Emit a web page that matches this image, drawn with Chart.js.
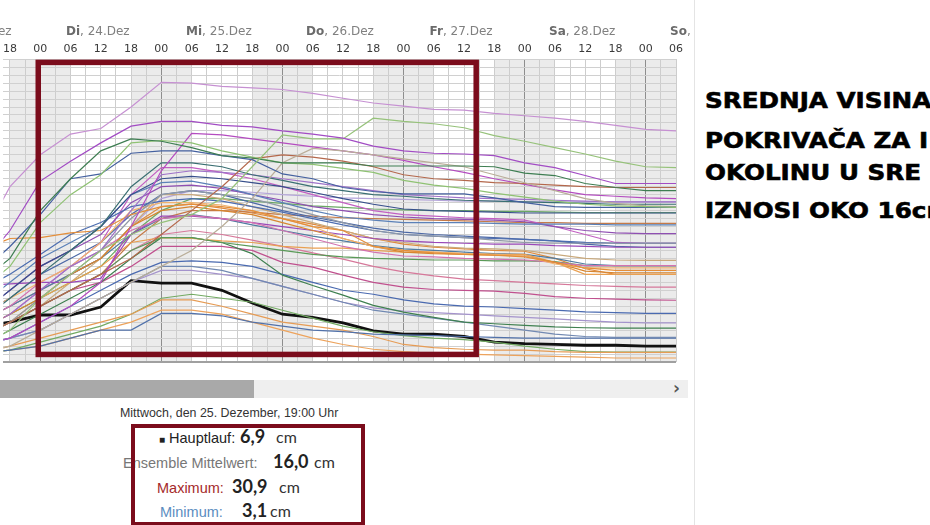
<!DOCTYPE html>
<html>
<head>
<meta charset="utf-8">
<script src="https://cdn.jsdelivr.net/npm/chart.js@4.4.1/dist/chart.umd.min.js"></script>
<style>
  body { margin: 0; width: 930px; height: 525px; background: #fff; overflow: hidden; position: relative; }
  #wrap { position: absolute; left: 0; top: 0; width: 690px; height: 370px; }
  #scroll { position: absolute; left: 0; top: 380px; width: 688px; height: 18px; background: #efefef; }
  #thumb { position: absolute; left: 0; top: 0; width: 254px; height: 18px; background: #a9a9a9; }
  #arrow { position: absolute; left: 673px; top: -2px; font: bold 17px "DejaVu Sans", sans-serif; color: #555; }
  #sep { position: absolute; left: 694px; top: 0; width: 1px; height: 525px; background: #e4e4e4; }
  .row { position: absolute; white-space: nowrap; line-height: 20px; height: 20px; }
  .row span { position: absolute; bottom: 3px; line-height: 1; }
  .lbl { font: 14.5px "Liberation Sans Narrow", "Liberation Sans", sans-serif; }
  .val { font: bold 18px Lato, "Open Sans", sans-serif; color: #222; }
  .cm { font: 16px Lato, "Open Sans", sans-serif; color: #333; }
  #when { position: absolute; left: 120px; top: 406px; white-space: nowrap; font: 12.4px "Liberation Sans Narrow", sans-serif; color: #333; }
  #box { position: absolute; left: 131px; top: 424px; width: 226px; height: 94px; border: 4px solid #7b0c1c; }
  #clipR { position: absolute; left: 696px; top: 0; width: 234px; height: 525px; overflow: hidden; }
  .big { position: absolute; left: 9px; white-space: nowrap; font: bold 22px "DejaVu Sans", sans-serif; color: #000;
         -webkit-text-stroke: 0.6px #000; transform: scaleX(1.12); transform-origin: 0 0; line-height: 1; }
</style>
</head>
<body>
<div id="wrap"><canvas id="chart" width="690" height="370"></canvas></div>
<div id="sep"></div>
<div id="scroll"><div id="thumb"></div><div id="arrow">›</div></div>

<div id="when">Mittwoch, den 25. Dezember, 19:00 Uhr</div>
<div class="row" style="left:0;top:428px;width:400px">
  <span class="lbl" style="left:159px;color:#222"><span style="position:static;font-size:10px">■</span> Hauptlauf:</span>
  <span class="val" style="left:240px">6,9</span>
  <span class="cm" style="left:276px">cm</span>
</div>
<div class="row" style="left:0;top:453px;width:400px">
  <span class="lbl" style="left:123px;color:#777">Ensemble Mittelwert:</span>
  <span class="val" style="left:273px">16,0</span>
  <span class="cm" style="left:314px">cm</span>
</div>
<div class="row" style="left:0;top:478px;width:400px">
  <span class="lbl" style="left:157px;color:#a52a2a">Maximum:</span>
  <span class="val" style="left:232px">30,9</span>
  <span class="cm" style="left:279px">cm</span>
</div>
<div class="row" style="left:0;top:502px;width:400px">
  <span class="lbl" style="left:160px;color:#5b8dbf">Minimum:</span>
  <span class="val" style="left:242px">3,1</span>
  <span class="cm" style="left:270px">cm</span>
</div>
<div id="box"></div>

<div id="clipR">
  <div class="big" style="top:90px">SREDNJA VISINA</div>
  <div class="big" style="top:130px">POKRIVAČA ZA I</div>
  <div class="big" style="top:162px">OKOLINU U SRE</div>
  <div class="big" style="top:200px">IZNOSI OKO 16cm</div>
</div>

<script>
// hours since Di, 24.Dez 00:00 (6-hourly steps)
const hours = [-12, -6, 0, 6, 12, 18, 24, 30, 36, 42, 48, 54, 60, 66, 72, 78, 84, 90, 96, 102, 108, 114, 120, 126];
const hourLabels = ['00', '06', '12', '18'];
const dayNames = ['Mo', 'Di', 'Mi', 'Do', 'Fr', 'Sa', 'So'];
const dayDates = ['23.Dez', '24.Dez', '25.Dez', '26.Dez', '27.Dez', '28.Dez', '29.Dez'];

// Hauptlauf (cm)
const mainRun = [4.4, 5.0, 5.9, 5.9, 6.9, 10.2, 9.9, 9.9, 9.0, 7.4, 6.0, 5.6, 4.9, 3.9, 3.5, 3.5, 3.2, 2.5, 2.3, 2.2, 2.1, 2.1, 2.0, 2.0];

// ensemble members (cm)
const members = [
  [15, 22, 26, 28.6, 29.3, 32, 35.1, 35, 34.6, 34.4, 34.2, 33.7, 33.1, 32.5, 32.1, 31.7, 31.6, 31.2, 30.9, 30.6, 30.2, 29.7, 29.2, 29],
  [12, 16.5, 22.7, 25.2, 27.5, 29.6, 30.2, 30.2, 29.7, 29.5, 29, 28.6, 28.1, 27.1, 26.5, 26.2, 26.1, 25.9, 25, 24.4, 23.4, 22.4, 22.4, 22.4],
  [2, 4, 8, 11, 14, 16, 17.5, 18.5, 20.5, 24.5, 28.5, 28, 28, 30.6, 30.2, 29.9, 29.4, 28.4, 27.7, 26.9, 26.1, 25.2, 24.5, 24.4],
  [10, 13, 19, 23, 26.5, 28, 27.7, 26.9, 25.9, 25.6, 25, 25, 25, 24.6, 24.6, 24.6, 24.6, 24.5, 23.7, 23.4, 22.4, 21.9, 21.5, 21.5],
  [9, 12, 17.5, 21, 23.5, 27.5, 27.8, 27.5, 26.5, 25.7, 25, 24.8, 24.3, 23.8, 22.8, 22.2, 21.8, 21.2, 20.7, 20.2, 19.8, 19.6, 19.5, 19.4],
  [11, 14.5, 18.5, 23, 23.6, 26.2, 26.5, 26.5, 25.9, 25.4, 23.6, 23, 21.9, 21.4, 21.1, 21.1, 21.1, 20.6, 20, 19.5, 19.4, 19.4, 19.4, 19.4],
  [1, 2, 4, 6, 8, 10, 12, 14, 17, 20.5, 25, 26.8, 26.5, 26, 25.5, 25, 24.5, 23.5, 22.5, 21.5, 20.5, 19.9, 19.6, 19.5],
  [3, 5, 7, 9, 11, 13, 16, 19, 22, 25.5, 26, 25.7, 25.2, 24.5, 23.5, 23, 22.8, 22.5, 22.4, 22.2, 22, 21.9, 21.9, 21.9],
  [2, 3, 5, 7, 10, 17, 24, 28.7, 28.5, 28, 27.5, 27, 26.5, 26, 25.3, 24.5, 23.8, 23, 22.3, 21.6, 21, 20.8, 20.6, 20.5],
  [5, 8, 11, 14, 17, 22, 25, 25, 24.5, 23.5, 22.8, 22, 21.5, 21, 20.8, 20.5, 20.3, 20.2, 20.1, 20, 19.9, 19.8, 19.8, 19.8],
  [4, 6, 9, 12, 14, 19, 23.5, 24, 23.8, 23.5, 23, 22.5, 22, 21.5, 21, 20.8, 20.6, 20.5, 20.4, 20.3, 20.2, 20.1, 20.1, 20.1],
  [6, 9, 12, 14, 17, 21, 23, 23.3, 23, 22.5, 22, 21.3, 20.5, 19.8, 19.2, 19, 18.9, 18.8, 18.7, 18.7, 18.7, 18.7, 18.7, 18.7],
  [7, 10, 13, 15, 17, 21, 22.5, 22.7, 22, 21, 20, 19, 18.2, 17.8, 17.5, 17.5, 17.5, 17.4, 17.3, 17.3, 17.3, 17.2, 17.2, 17.2],
  [3, 5, 8, 11, 14, 18, 21, 21.5, 21, 20.5, 19.5, 18.5, 17.5, 16.5, 16, 15.8, 15.6, 15.3, 15, 14.9, 14.9, 14.9, 14.9, 14.9],
  [14, 15.5, 15.6, 16.2, 16.5, 18.5, 19.5, 19.8, 19.5, 19, 18, 17, 16.5, 14.5, 14, 13.7, 13.5, 13.4, 13.2, 12.5, 11.8, 11.5, 11.5, 11.5],
  [6, 8, 10, 12, 15, 19, 20, 20, 19.7, 19, 18, 17, 15.5, 14.5, 14, 13.8, 13.6, 13.5, 13.3, 12.3, 11.8, 11.8, 11.8, 11.8],
  [4, 6, 8, 11, 13, 17, 19, 19.5, 19, 18.5, 17.5, 16.5, 15.5, 14.5, 13.8, 13.6, 13.5, 13.4, 13.3, 12.5, 11.4, 11.2, 11.2, 11.2],
  [5, 7, 10, 12, 14, 16.5, 18, 18.4, 18, 17.5, 16.5, 15.5, 14.5, 13.8, 13.3, 13.2, 13, 12.9, 12.8, 12.5, 12.1, 12.1, 12.1, 12.1],
  [9.5, 9.8, 10, 10, 10.5, 16, 18.3, 18.3, 18, 17.5, 17, 16.5, 16, 15.5, 15.2, 15, 14.9, 14.8, 14.8, 14.6, 14.5, 14.4, 14.4, 14.4],
  [9, 11, 13.5, 16, 17.5, 19.5, 20.2, 20.5, 20.2, 19.5, 18.8, 18, 17.2, 16.5, 16, 15.8, 15.6, 15.5, 15.4, 15.2, 15, 14.9, 14.9, 14.9],
  [3, 5, 7, 9, 11, 14, 15.6, 15.6, 15, 14.5, 14, 13.5, 13.2, 13, 12.9, 12.8, 12.8, 12.7, 12.7, 12.6, 12.1, 12.1, 12.1, 12.1],
  [3, 5, 8, 10, 12, 15, 15.6, 15.5, 15.2, 15, 14.5, 14.3, 14.3, 14, 13.8, 13.8, 13.6, 13.5, 13.5, 12.5, 11, 11, 11, 11],
  [2, 4, 6, 8, 10, 13, 15.6, 15.6, 15, 13.6, 10.9, 9.6, 8.4, 7.1, 6.25, 5.6, 5, 4.8, 4.6, 4.4, 4.3, 4.25, 4.25, 4.25],
  [2, 3, 4, 6, 8, 10, 12, 12, 11.5, 10.5, 9.5, 8.5, 7.5, 6.5, 6, 5.5, 5, 4.5, 4, 3.5, 3.2, 3.1, 3.1, 3.1],
  [1, 1.5, 2, 3, 4, 4, 6.1, 6.1, 5.8, 5, 4.5, 4, 3.8, 3.5, 3.4, 3.3, 3.2, 3.1, 3, 3, 3, 3, 3, 3],
  [1, 2, 3, 4, 5, 6, 7.8, 7.8, 7, 6, 5, 4.5, 4, 3.2, 2.2, 1.8, 1.6, 1.5, 1.5, 1.3, 1.2, 1.2, 1.2, 1.2],
  [1, 1.5, 2.5, 3.5, 4.5, 6, 8, 8.5, 8, 7.5, 6.5, 5.5, 4.5, 3.8, 3.3, 3, 2.8, 2.5, 2, 1.6, 1.3, 1.25, 1.25, 1.25],
  [3, 5, 7, 9, 10, 12, 14.5, 14.5, 14.5, 14, 12.5, 11.9, 10.9, 10, 9.4, 9.1, 9, 8.9, 8.6, 8.2, 8, 7.9, 7.8, 7.75],
  [2, 3, 5, 7, 9, 11, 12.5, 12.7, 12.5, 12, 11, 10, 9, 8.5, 7.8, 7.3, 7, 6.9, 6.7, 6.5, 6.3, 6.2, 6.1, 6.1],
  [2, 3, 4, 6, 8, 10, 11.5, 11.5, 11, 10.5, 9.5, 8.5, 7.5, 6.8, 6.4, 6.2, 6, 5.8, 5.6, 5.4, 5.2, 5, 4.9, 4.9],
  [1, 1.5, 2, 3, 4, 5, 6.5, 6.5, 6, 5, 4, 3, 2.2, 1.6, 1.3, 1.1, 1, 0.9, 0.8, 0.7, 0.6, 0.5, 0.5, 0.5],
  [3, 5, 7, 10, 13, 17, 21, 21, 20.5, 19.5, 18.5, 17.5, 16.5, 15.5, 15, 14.5, 14.3, 14.2, 14, 13.5, 13, 12.8, 12.75, 12.75],
  [5, 7, 9, 11, 13, 16, 18, 18.5, 18, 17.2, 16.5, 15.8, 15.2, 14.6, 14.2, 14, 13.8, 13.6, 13.5, 13, 12.3, 12.1, 12.1, 12.1],
  [6, 9, 12, 14, 16, 20, 22, 22.2, 21.8, 21, 20.3, 19.5, 19, 18.5, 18.2, 18, 17.9, 17.8, 17.6, 17, 16.5, 16.2, 16.1, 16.1],
  [4, 6, 9, 12, 15, 21, 24.4, 24.4, 23.8, 23, 22, 21, 20, 19, 18.5, 18.3, 18.1, 18, 17.8, 17, 16, 15, 14.9, 14.9],
  [6, 8, 11, 13, 15, 18.5, 21, 21.5, 21, 20, 19, 18.2, 17.5, 16.8, 16.3, 16, 15.8, 15.6, 15.4, 15.2, 14.8, 14.5, 14.4, 14.4],
  [5, 7, 9, 11, 13, 17, 20.5, 21.5, 21.5, 21.3, 21, 20.8, 20.6, 20.5, 20.4, 20.3, 20.2, 20.2, 20.1, 20.1, 20.1, 20.1, 20.1, 20.1],
  [4, 6, 8, 10, 12, 16, 19, 20.5, 20.5, 20.2, 19.9, 19.6, 19.4, 19.2, 19.1, 19, 19, 18.9, 18.9, 18.8, 18.75, 18.75, 18.75, 18.75],
  [3, 5, 7, 9, 11, 15, 18, 19, 19, 18.8, 18.5, 18.3, 18.1, 18, 17.9, 17.8, 17.7, 17.6, 17.5, 17.5, 17.4, 17.4, 17.4, 17.4],
  [5, 7, 9, 11, 13, 17, 19.5, 19.8, 19.3, 18.7, 18, 17.3, 16.5, 15.5, 14.8, 14.4, 14.2, 14, 13.9, 13, 11.7, 11, 11, 11],
  [3, 5, 7, 9, 11, 14, 16, 16.5, 16, 15.3, 14.5, 13.7, 12.9, 12, 11.3, 10.8, 10.4, 10.2, 10, 9.8, 9.6, 9.5, 9.4, 9.4]
];

const memberColors = [
  '#c690d2', '#a24cc4', '#96c27a', '#3e7e52', '#8fc273', '#44609f', '#b9ad98', '#b4684c', '#b44cc0', '#3a6f72',
  '#9f72c8', '#374f8b', '#5b81b8', '#9099a6', '#e48e3a', '#f0b26e', '#d7852f', '#d372b0', '#9a48b8', '#4c6db0',
  '#5a9a58', '#e9a052', '#3f8050', '#7189b2', '#5272aa', '#e69c55', '#72aa62', '#c0508e', '#4a6ab0', '#a493cc',
  '#eda35c', '#c9a97c', '#4f7ba0', '#8f4fb2', '#c25fc2', '#4c69a6', '#b3a3d9', '#6aa864', '#c47a48', '#e08a3c',
  '#d6789a'
];

// red marking frame: [from hour, to hour, top cm, bottom cm]
const frameBox = [-0.4, 86.4, 37.6, 0.95];

const datasets = members.map((vals, i) => ({
  data: vals.map((v, j) => ({ x: hours[j], y: v })),
  borderColor: memberColors[i],
  borderWidth: 1.2,
  pointRadius: 0
}));
datasets.push({
  data: mainRun.map((v, j) => ({ x: hours[j], y: v })),
  borderColor: '#111',
  borderWidth: 2.8,
  pointRadius: 0
});

const tickHours = [];
for (let h = -6; h <= 126; h += 3) tickHours.push(h);

// night bands 18:00 - 06:00
const nightShade = {
  id: 'nightShade',
  beforeDraw(chart) {
    const { ctx, chartArea: a, scales: { x } } = chart;
    ctx.save();
    ctx.fillStyle = '#ebebeb';
    for (let s = -30; s < 130; s += 24) {
      const x1 = Math.max(a.left, x.getPixelForValue(s));
      const x2 = Math.min(a.right, x.getPixelForValue(s + 12));
      if (x2 > x1) ctx.fillRect(x1, a.top, x2 - x1, a.bottom - a.top);
    }
    ctx.restore();
  }
};

// day names above the hour ticks
const dayRow = {
  id: 'dayRow',
  afterDraw(chart) {
    const { ctx, scales: { x } } = chart;
    ctx.save();
    ctx.textBaseline = 'middle';
    dayNames.forEach((d, i) => {
      const cx = x.getPixelForValue(-12 + 24 * i) - 3;
      const rest = ', ' + dayDates[i];
      ctx.font = 'bold 12px "DejaVu Sans"';
      const w1 = ctx.measureText(d).width;
      ctx.font = '12px "DejaVu Sans"';
      const w2 = ctx.measureText(rest).width;
      const left = cx - (w1 + w2) / 2;
      ctx.font = 'bold 12px "DejaVu Sans"';
      ctx.fillStyle = '#6b6b6b';
      ctx.fillText(d, left, 32);
      ctx.font = '12px "DejaVu Sans"';
      ctx.fillStyle = '#808080';
      ctx.fillText(rest, left + w1, 32);
    });
    ctx.restore();
  }
};

// dark red marking rectangle
const frame = {
  id: 'frame',
  afterDraw(chart) {
    const { ctx, scales: { x, y } } = chart;
    const l = x.getPixelForValue(frameBox[0]), r = x.getPixelForValue(frameBox[1]);
    const t = y.getPixelForValue(frameBox[2]), b = y.getPixelForValue(frameBox[3]);
    ctx.save();
    ctx.strokeStyle = '#7b0c1c';
    ctx.lineWidth = 5.5;
    ctx.strokeRect(l, t, r - l, b - t);
    ctx.restore();
  }
};

new Chart(document.getElementById('chart'), {
  type: 'line',
  data: { datasets },
  options: {
    responsive: false,
    animation: false,
    layout: { padding: { top: 40, right: 14, bottom: 8, left: 0 } },
    plugins: { legend: { display: false }, tooltip: { enabled: false } },
    elements: { line: { tension: 0 } },
    scales: {
      x: {
        type: 'linear',
        position: 'top',
        min: -7.3,
        max: 126,
        afterBuildTicks: s => { s.ticks = tickHours.map(v => ({ value: v })); },
        ticks: {
          autoSkip: false,
          maxRotation: 0,
          padding: 3,
          color: '#3a3a3a',
          font: { family: 'DejaVu Sans', size: 11 },
          callback: v => (v % 6 === 0 ? hourLabels[(((v % 24) + 24) % 24) / 6] : '')
        },
        grid: {
          drawTicks: false,
          color: c => (c.tick && c.tick.value % 24 === 0 ? '#8e8e8e' : '#cdcdcd')
        },
        border: { display: false }
      },
      y: {
        min: 0,
        max: 38,
        ticks: { display: false, stepSize: 1 },
        grid: {
          drawTicks: false,
          color: c => (c.tick && c.tick.value === 0 ? '#a0a0a0' : '#d0d0d0'),
          lineWidth: c => (c.tick && c.tick.value === 0 ? 2 : 1)
        },
        border: { display: false }
      }
    }
  },
  plugins: [nightShade, dayRow, frame]
});
</script>
</body>
</html>
